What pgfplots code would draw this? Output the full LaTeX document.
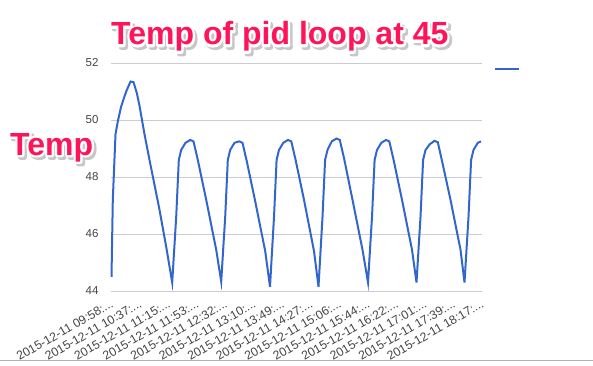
\documentclass[border=0pt]{standalone}
\usepackage{fontspec}
\setmainfont{Liberation Sans}
\usepackage{pgfplots}
\pgfplotsset{compat=1.18}
\definecolor{gline}{HTML}{3366CC}
\definecolor{gridc}{HTML}{CCCCCC}
\definecolor{tickc}{HTML}{444444}
\definecolor{pinkc}{RGB}{255,20,90}
\newcommand{\bigfont}{\fontsize{32}{34}\selectfont\bfseries}
\newcommand{\dd}{.{}.{}.}
\newcommand{\stroked}[1]{\special{pdf:literal direct 2 Tr 4.5 w 1 J 1 j}#1\special{pdf:literal direct 0 Tr}}
\begin{document}
\begin{tikzpicture}[x=1pt,y=1pt]
\useasboundingbox (0,0) rectangle (593,365);
\draw[black!30,line width=0.8pt] (0,5) -- (593,5);
\begin{axis}[
  at={(111pt,74pt)}, anchor=south west,
  width=371pt, height=228pt, scale only axis,
  xmin=-0.5, xmax=370.5, ymin=44, ymax=52,
  ytick={44,46,48,50,52},
  xtick={0,28.5,57,85.5,114,142.5,171,199.5,228,256.5,285,313.5,342,370.5},
  xticklabels={{2015-12-11 09:58:\dd},{2015-12-11 10:37:\dd},{2015-12-11 11:15:\dd},{2015-12-11 11:53:\dd},{2015-12-11 12:32:\dd},{2015-12-11 13:10:\dd},{2015-12-11 13:49:\dd},{2015-12-11 14:27:\dd},{2015-12-11 15:06:\dd},{2015-12-11 15:44:\dd},{2015-12-11 16:22:\dd},{2015-12-11 17:01:\dd},{2015-12-11 17:39:\dd},{2015-12-11 18:17:\dd}},
  xticklabel style={rotate=30, anchor=east, font=\fontsize{12.2}{13}\selectfont, text=tickc, xshift=-2pt, yshift=-10.5pt},
  yticklabel style={font=\fontsize{11.5}{12}\selectfont, text=tickc, xshift=-9pt},
  /pgf/number format/assume math mode=true,
  axis line style={draw=none},
  major tick length=0pt,
  ymajorgrids, grid style={gridc, line width=1pt},
  clip=false,
  legend style={at={(1.032,0.974)}, anchor=west, draw=none, fill=none, inner sep=0pt,
    nodes={inner sep=0pt}},
  legend image code/.code={\draw[#1,line width=2.5pt] (0pt,0pt) -- (24pt,0pt);},
]
\addplot[gline, line width=2pt] coordinates {
(0,44.5) (1.3,47.2) (4,49.5) (6.3,49.95) (9.7,50.48) (14.7,51.0) (19,51.35) (22,51.33) (25.3,50.95) (28,50.5) (33,49.5) (38,48.6) (48,46.85) (54.7,45.55) (60.7,44.3)
(64.7,46.6) (67.3,48.6) (69.7,48.95) (74,49.2) (78.7,49.3) (82,49.25) (86.3,48.6) (94.7,47.2) (104.7,45.45) (109.7,44.33)
(113.7,46.6) (116.3,48.6) (118.7,48.95) (123,49.2) (127.7,49.25) (131,49.2) (135.3,48.55) (143.7,47.15) (153.7,45.4) (158.5,44.15)
(162.5,46.6) (165.1,48.6) (167.5,48.95) (171.8,49.2) (176.5,49.3) (179.8,49.25) (184.1,48.6) (192.5,47.2) (202.5,45.4) (207,44.15)
(211,46.6) (213.6,48.6) (216,48.95) (220.3,49.25) (225,49.35) (228.3,49.3) (232.6,48.65) (241,47.2) (251,45.45) (256.5,44.3)
(260.5,46.6) (263.1,48.6) (265.5,48.95) (269.8,49.2) (274.5,49.3) (277.8,49.25) (282.1,48.6) (290.5,47.2) (300.5,45.45) (305,44.3)
(309,46.6) (311.6,48.6) (314,48.95) (318.3,49.15) (323,49.27) (326.3,49.22) (330.6,48.55) (339,47.2) (349,45.45) (353,44.3)
(357,46.6) (359.6,48.6) (362,48.95) (366.3,49.2) (369.5,49.25)
};
\addlegendentry{}
\end{axis}
% title with outline and shadow
\node[anchor=base west,inner sep=0,font=\bigfont,text=black!22] at (113.5,317.5) {\stroked{Temp of pid loop at 45}};
\node[anchor=base west,inner sep=0,font=\bigfont,text=white] at (111,320) {\stroked{Temp of pid loop at 45}};
\node[anchor=base west,inner sep=0,font=\bigfont,text=pinkc] at (111,320) {Temp of pid loop at 45};
\node[anchor=base west,inner sep=0,font=\bigfont,text=black!22] at (12.5,207.5) {\stroked{Temp}};
\node[anchor=base west,inner sep=0,font=\bigfont,text=white] at (10,210) {\stroked{Temp}};
\node[anchor=base west,inner sep=0,font=\bigfont,text=pinkc] at (10,210) {Temp};
\end{tikzpicture}
\end{document}
